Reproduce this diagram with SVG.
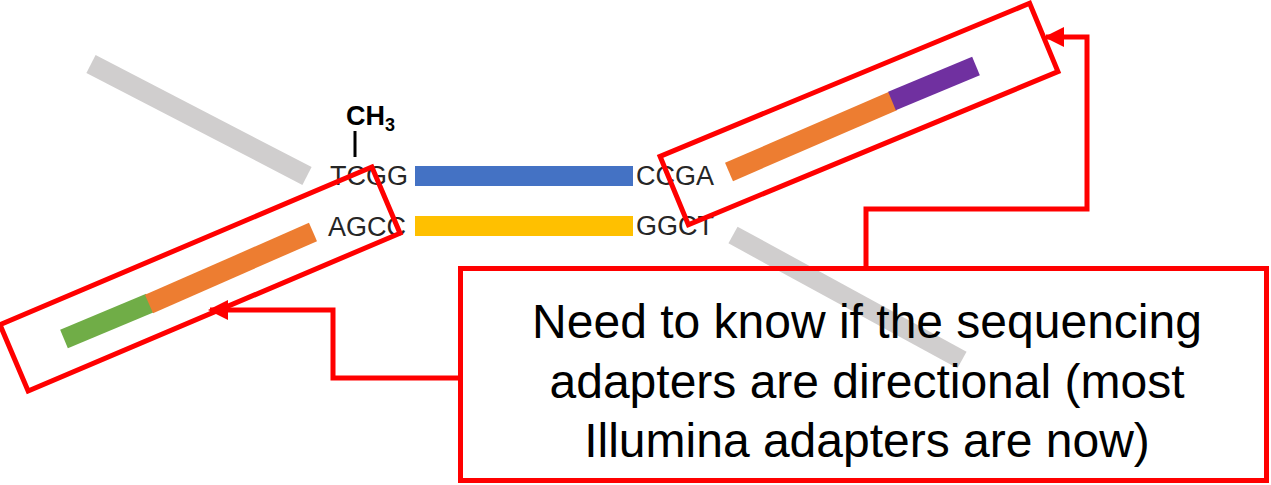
<svg xmlns="http://www.w3.org/2000/svg" width="1271" height="485" viewBox="0 0 1271 485">
<defs>
<style>
.seq{font-family:"Liberation Sans",Arial,sans-serif;font-size:27px;fill:#262626}
.big{font-family:"Liberation Sans",Arial,sans-serif;font-size:48px;fill:#000;text-anchor:middle}
.red{fill:none;stroke:#FF0000;stroke-width:5}
.conn{fill:none;stroke:#FF0000;stroke-width:5;stroke-linejoin:miter}
</style>
<marker id="ah" viewBox="0 0 10 10" refX="9" refY="5" markerWidth="4" markerHeight="4.4" orient="auto" markerUnits="strokeWidth">
<path d="M0,0 L10,5 L0,10 z" fill="#FF0000"/>
</marker>
</defs>
<g id="grey-bars">
<line x1="91" y1="64" x2="307" y2="176" stroke="#D0CECE" stroke-width="20"/>
<line x1="733" y1="235" x2="962" y2="360" stroke="#D0CECE" stroke-width="19"/>
</g>
<g id="duplex">
<rect x="415" y="166" width="218" height="20" fill="#4472C4"/>
<rect x="415" y="216" width="218" height="20" fill="#FFC000"/>
<text class="seq" x="330" y="185">TCGG</text>
<text class="seq" x="328" y="236">AGCC</text>
<text class="seq" x="636" y="185">CCGA</text>
<text class="seq" x="636" y="235">GGCT</text>
<text x="346" y="125" font-family="Liberation Sans,Arial,sans-serif" font-weight="bold" font-size="27" fill="#000">CH<tspan font-size="18" dy="6">3</tspan></text>
<line x1="355" y1="131" x2="355" y2="157" stroke="#000" stroke-width="3"/>
</g>
<g id="left-adapter">
<line x1="64" y1="339" x2="150" y2="303" stroke="#70AD47" stroke-width="20"/>
<line x1="149" y1="304" x2="313" y2="232" stroke="#ED7D31" stroke-width="20"/>
<rect class="red" x="-202" y="-36" width="404" height="72" transform="translate(200 279) rotate(-23)"/>
</g>
<g id="right-adapter">
<line x1="729" y1="172" x2="893" y2="101" stroke="#ED7D31" stroke-width="20"/>
<line x1="892" y1="101" x2="976" y2="66" stroke="#7030A0" stroke-width="20"/>
<rect class="red" x="-200" y="-37" width="400" height="74" transform="translate(859 114) rotate(-22.5)"/>
</g>
<g id="connectors">
<polyline class="conn" points="460,378 333,378 333,310 210,310" marker-end="url(#ah)"/>
<polyline class="conn" points="866,268 866,209 1087,209 1087,37 1046,37" marker-end="url(#ah)"/>
</g>
<g id="note">
<rect class="red" x="460.5" y="268.5" width="806" height="212"/>
<text class="big" x="867" y="338">Need to know if the sequencing</text>
<text class="big" x="867" y="398">adapters are directional (most</text>
<text class="big" x="867" y="457">Illumina adapters are now)</text>
</g>
</svg>
